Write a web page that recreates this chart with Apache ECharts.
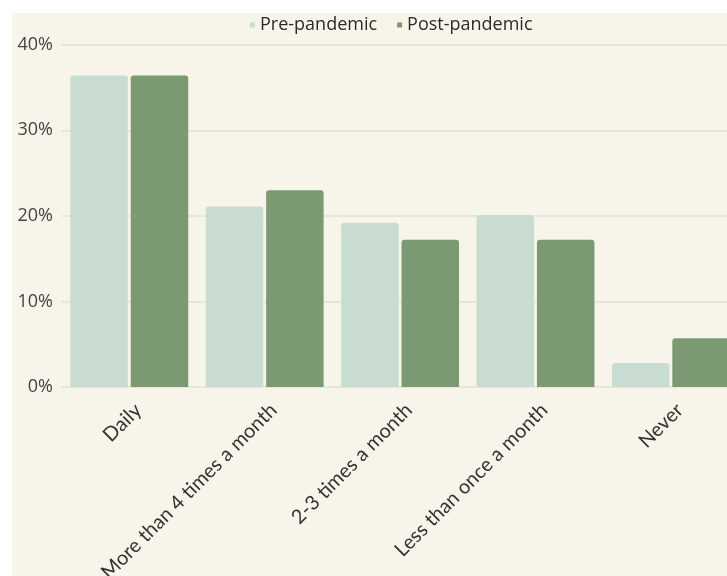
<!DOCTYPE html>
<html>
<head>
<meta charset="utf-8">
<script src="https://cdn.jsdelivr.net/npm/echarts@6/dist/echarts.min.js"></script>
<style>
  html, body { margin: 0; padding: 0; background: #ffffff; }
  #wrap { position: relative; width: 727px; height: 576px; background: #ffffff; overflow: hidden; }
  #bg { position: absolute; left: 12px; top: 13px; right: 0; bottom: 0; background: #f7f5ea; }
  #chart { position: absolute; left: 0; top: 0; width: 727px; height: 576px; }
</style>
</head>
<body>
<div id="wrap"><div id="bg"></div><div id="chart"></div></div>
<script>
const categories = ["Daily", "More than 4 times a month", "2-3 times a month", "Less than once a month", "Never"];
const prePandemic = [36.4, 21.1, 19.2, 20.1, 2.8];
const postPandemic = [36.4, 23.0, 17.2, 17.2, 5.7];
const seriesNames = ["Pre-pandemic", "Post-pandemic"];
const yTicks = [0, 10, 20, 30, 40];

const chart = echarts.init(document.getElementById('chart'), null, { renderer: 'canvas' });
chart.setOption({
  backgroundColor: 'transparent',
  animation: false,
  legend: {
    data: seriesNames,
    left: 245,
    top: 11,
    icon: 'rect',
    itemWidth: 5,
    itemHeight: 5,
    itemGap: 20,
    textStyle: { fontFamily: 'Open Sans', fontSize: 18, color: '#2a2a2a' }
  },
  grid: { left: 61.6, top: 44.7, width: 677, height: 342.3, containLabel: false, outerBoundsMode: 'none' },
  xAxis: {
    type: 'category',
    data: categories,
    axisLine: { show: false },
    axisTick: { show: false },
    axisLabel: {
      rotate: 45,
      interval: 0,
      margin: 11,
      verticalAlign: 'top',
      lineHeight: 25,
      fontFamily: 'Lato',
      fontSize: 20,
      color: '#333333'
    }
  },
  yAxis: {
    type: 'value',
    min: yTicks[0],
    max: yTicks[yTicks.length - 1],
    interval: 10,
    axisLine: { show: false },
    axisTick: { show: false },
    axisLabel: {
      formatter: '{value}%',
      margin: 8.6,
      fontFamily: 'Open Sans',
      fontSize: 18,
      color: '#444444'
    },
    splitLine: { lineStyle: { color: '#e3e0d3', width: 1.5 } }
  },
  series: [
    {
      name: seriesNames[0],
      type: 'bar',
      data: prePandemic,
      barWidth: 57.5,
      barGap: '5%',
      itemStyle: { color: '#c9dcd2', borderRadius: [3, 3, 0, 0] }
    },
    {
      name: seriesNames[1],
      type: 'bar',
      data: postPandemic,
      barWidth: 57.5,
      barGap: '5%',
      itemStyle: { color: '#7b9972', borderRadius: [3, 3, 0, 0] }
    }
  ]
});
</script>
</body>
</html>
